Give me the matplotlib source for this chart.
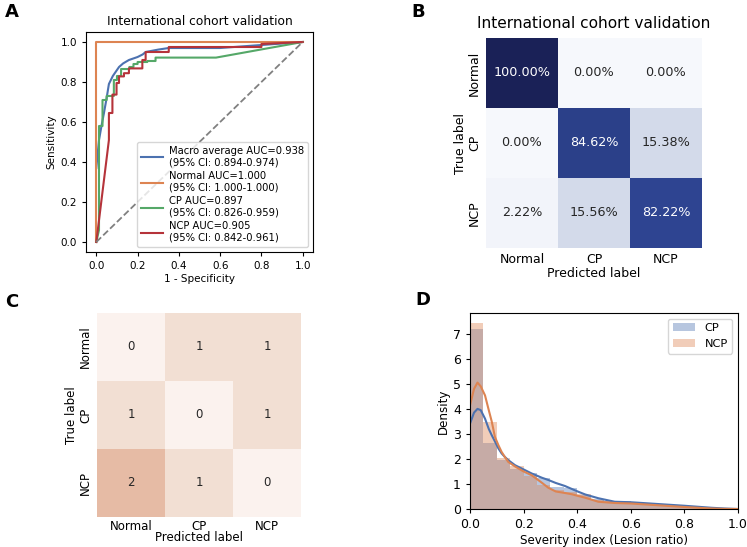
import matplotlib
matplotlib.use("Agg")
import matplotlib.pyplot as plt
import numpy as np
import seaborn as sns
from matplotlib.colors import LinearSegmentedColormap

# ---- Panel A: ROC curves ----
macro_fpr = [0.0, 0.013, 0.025, 0.037, 0.05, 0.061, 0.08, 0.11, 0.13, 0.158, 0.2, 0.225,
             0.239, 0.3, 0.351, 0.6, 0.8, 1.0]
macro_tpr = [0.37, 0.51, 0.58, 0.645, 0.72, 0.79, 0.83, 0.875, 0.893, 0.91, 0.925, 0.938,
             0.95, 0.962, 0.97, 0.97, 0.985, 1.0]
normal_fpr = [0.0, 0.0, 1.0]
normal_tpr = [0.0, 1.0, 1.0]
cp_fpr = [0.0, 0.013, 0.013, 0.03, 0.03, 0.05, 0.05, 0.085, 0.085, 0.1, 0.1, 0.12, 0.12,
          0.16, 0.16, 0.18, 0.18, 0.2, 0.2, 0.247, 0.247, 0.287, 0.287, 0.58, 1.0]
cp_tpr = [0.0, 0.06, 0.58, 0.58, 0.71, 0.71, 0.73, 0.73, 0.81, 0.81, 0.83, 0.83, 0.865,
          0.865, 0.875, 0.875, 0.89, 0.89, 0.9, 0.9, 0.905, 0.905, 0.922, 0.922, 1.0]
ncp_fpr = [0.0, 0.061, 0.061, 0.078, 0.078, 0.098, 0.098, 0.11, 0.11, 0.134, 0.134, 0.158,
           0.158, 0.223, 0.223, 0.239, 0.239, 0.351, 0.351, 0.8, 0.8, 1.0]
ncp_tpr = [0.0, 0.51, 0.645, 0.645, 0.737, 0.737, 0.795, 0.795, 0.828, 0.828, 0.844, 0.844,
           0.868, 0.868, 0.91, 0.91, 0.95, 0.95, 0.975, 0.975, 0.99, 1.0]
roc_labels = ["Macro average AUC=0.938\n(95% CI: 0.894-0.974)",
              "Normal AUC=1.000\n(95% CI: 1.000-1.000)",
              "CP AUC=0.897\n(95% CI: 0.826-0.959)",
              "NCP AUC=0.905\n(95% CI: 0.842-0.961)"]

# ---- Panel B / C: confusion matrices ----
classes = ["Normal", "CP", "NCP"]
cm_pct = np.array([[100.00, 0.00, 0.00],
                   [0.00, 84.62, 15.38],
                   [2.22, 15.56, 82.22]])
cm_diff = np.array([[0, 1, 1],
                    [1, 0, 1],
                    [2, 1, 0]])

# ---- Panel D: severity histogram + KDE ----
bin_edges = np.arange(0, 1.0001, 0.05)
cp_hist = [7.2, 2.62, 1.95, 1.6, 1.42, 1.25, 0.89, 0.85, 0.55, 0.4, 0.3, 0.33,
           0.25, 0.2, 0.15, 0.12, 0.1, 0.05, 0.02, 0.0]
ncp_hist = [7.44, 3.48, 2.05, 1.7, 1.32, 0.96, 0.76, 0.69, 0.6, 0.35, 0.3, 0.25,
            0.2, 0.15, 0.12, 0.1, 0.05, 0.02, 0.0, 0.0]
kde_x = [0.0, 0.015, 0.028, 0.04, 0.056, 0.07, 0.081, 0.093, 0.106, 0.118, 0.13, 0.143,
         0.168, 0.2, 0.23, 0.268, 0.292, 0.32, 0.354, 0.38, 0.404, 0.43, 0.479, 0.54,
         0.6, 0.7, 0.8, 0.9, 0.95, 1.0]
cp_kde = [3.41, 3.85, 4.0, 3.95, 3.61, 3.2, 2.95, 2.7, 2.42, 2.22, 2.08, 1.95,
          1.75, 1.58, 1.42, 1.25, 1.16, 1.04, 0.92, 0.8, 0.69, 0.58, 0.43, 0.29,
          0.27, 0.2, 0.13, 0.05, 0.02, 0.0]
ncp_kde = [4.14, 4.8, 5.05, 4.9, 4.54, 3.95, 3.5, 2.88, 2.55, 2.28, 2.08, 1.88,
           1.7, 1.5, 1.35, 1.05, 0.85, 0.7, 0.64, 0.59, 0.52, 0.45, 0.29, 0.24,
           0.22, 0.15, 0.08, 0.02, 0.005, 0.0]

W, H = 747, 547
fig = plt.figure(figsize=(W / 100, H / 100), dpi=100)
fig.patch.set_facecolor("white")


def px_axes(left, top, right, bottom):
    return fig.add_axes([left / W, 1 - bottom / H, (right - left) / W, (bottom - top) / H])


# ---- A ----
axA = px_axes(86, 32, 313, 252)
roc_colors = ["#4C72B0", "#DD8452", "#55A868", "#B5333A"]
for fpr, tpr, c, lab in zip([macro_fpr, normal_fpr, cp_fpr, ncp_fpr],
                            [macro_tpr, normal_tpr, cp_tpr, ncp_tpr],
                            roc_colors, roc_labels):
    axA.plot(fpr, tpr, color=c, lw=1.5, label=lab)
axA.plot([0, 1], [0, 1], color="gray", ls="--", lw=1.3)
axA.set_xlim(-0.05, 1.05)
axA.set_ylim(-0.05, 1.05)
axA.set_xticks([0, 0.2, 0.4, 0.6, 0.8, 1.0])
axA.set_yticks([0, 0.2, 0.4, 0.6, 0.8, 1.0])
axA.tick_params(labelsize=7.5, length=3)
axA.set_xlabel("1 - Specificity", fontsize=7.5, labelpad=2)
axA.set_ylabel("Sensitivity", fontsize=7.5, labelpad=3)
axA.set_title("International cohort validation", fontsize=8.8, pad=5)
axA.legend(loc="lower right", fontsize=7.2, handlelength=2.2, labelspacing=0.35,
           borderpad=0.4, handletextpad=0.6)

# ---- B ----
axB = px_axes(486, 38, 702, 248)
blues = LinearSegmentedColormap.from_list(
    "cm_b", [(0.0, "#f6f8fc"), (0.15, "#d4dbea"), (0.82, "#2e4592"), (1.0, "#1a2157")])
pct_labels = np.array([[f"{v:.2f}%" for v in row] for row in cm_pct])
sns.heatmap(cm_pct, ax=axB, cmap=blues, vmin=0, vmax=100, cbar=False,
            annot=pct_labels, fmt="", annot_kws={"fontsize": 9.2},
            xticklabels=classes, yticklabels=classes)
axB.set_title("International cohort validation", fontsize=11.1, pad=7)
axB.set_xlabel("Predicted label", fontsize=9, labelpad=1)
axB.set_ylabel("True label", fontsize=9, labelpad=1)
axB.tick_params(labelsize=9, length=0)
plt.setp(axB.get_yticklabels(), rotation=90, va="center")

# ---- C ----
axC = px_axes(97, 313, 301, 517)
oranges = LinearSegmentedColormap.from_list(
    "cm_c", [(0.0, "#fbf2ee"), (0.5, "#f2dfd3"), (1.0, "#e6bba5")])
sns.heatmap(cm_diff, ax=axC, cmap=oranges, vmin=0, vmax=2, cbar=False,
            annot=True, fmt="d", annot_kws={"fontsize": 8.5},
            xticklabels=classes, yticklabels=classes)
axC.set_xlabel("Predicted label", fontsize=8.5, labelpad=-1)
axC.set_ylabel("True label", fontsize=8.5, labelpad=1)
axC.tick_params(labelsize=8.5, length=0)
axC.tick_params(axis="x", pad=2)
plt.setp(axC.get_yticklabels(), rotation=90, va="center")

# ---- D ----
axD = px_axes(470, 313, 738, 509)
cp_col, ncp_col = "#4C72B0", "#DD8452"
axD.bar(bin_edges[:-1], cp_hist, width=0.05, align="edge", color=cp_col, alpha=0.4,
        lw=0, label="CP")
axD.bar(bin_edges[:-1], ncp_hist, width=0.05, align="edge", color=ncp_col, alpha=0.4,
        lw=0, label="NCP")
axD.plot(kde_x, cp_kde, color=cp_col, lw=1.5)
axD.plot(kde_x, ncp_kde, color=ncp_col, lw=1.5)
axD.set_xlim(0, 1.0)
axD.set_ylim(0, 7.83)
axD.set_yticks(range(8))
axD.set_xticks([0, 0.2, 0.4, 0.6, 0.8, 1.0])
axD.tick_params(labelsize=9, length=3)
axD.set_xlabel("Severity index (Lesion ratio)", fontsize=8.6, labelpad=2)
axD.set_ylabel("Density", fontsize=8.6, labelpad=2)
axD.legend(loc="upper right", fontsize=8.2, handlelength=2.0)

# panel letters
for letter, x, y in [("A", 12, 12), ("B", 418, 12), ("C", 12, 302), ("D", 423, 300)]:
    fig.text(x / W, 1 - y / H, letter, fontsize=13, fontweight="bold",
             ha="center", va="center")

fig.savefig("out.png", dpi=100, facecolor="white")
